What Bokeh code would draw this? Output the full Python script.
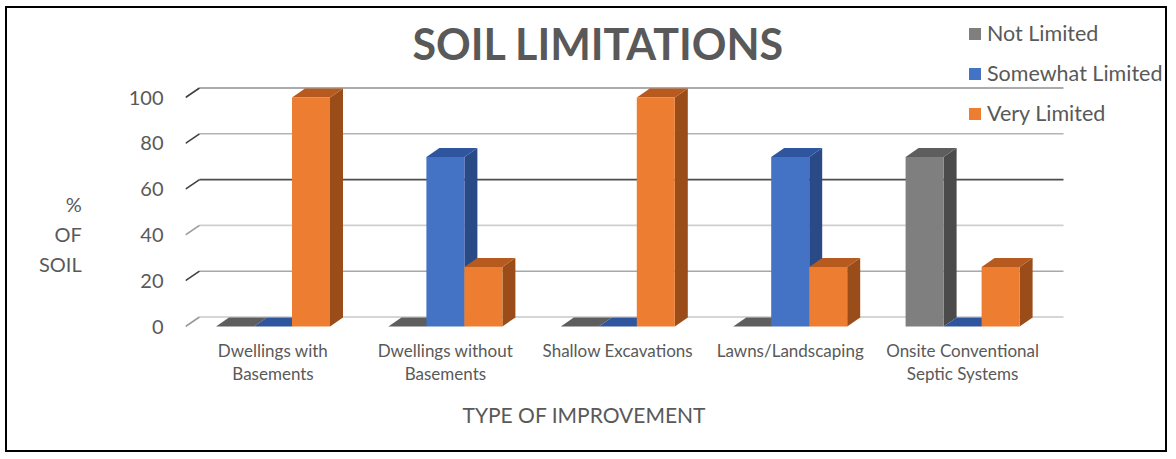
import numpy as np
from bokeh.plotting import figure
from bokeh.models import Range1d, FixedTicker, Label, Legend, LegendItem, Title
from bokeh.embed import file_html
from bokeh.resources import INLINE

# ---------------- data ----------------
categories = ["Dwellings with\nBasements", "Dwellings without\nBasements",
              "Shallow Excavations", "Lawns/Landscaping",
              "Onsite Conventional\nSeptic Systems"]
series_names = ["Not Limited", "Somewhat Limited", "Very Limited"]
not_limited = [0, 0, 0, 0, 74]
somewhat_limited = [0, 74, 0, 74, 0]
very_limited = [100, 26, 100, 26, 26]
y_ticks = [0, 20, 40, 60, 80, 100]
title_text = "SOIL LIMITATIONS"
x_title = "TYPE OF IMPROVEMENT"
y_title_lines = ["%", "OF", "SOIL"]

# ---------------- styles ----------------
front_colors = ["#7f7f7f", "#4472c4", "#ed7d31"]
top_colors = ["#5e5e5e", "#2f559f", "#b65a1f"]
side_colors = ["#4b4b4b", "#294a86", "#9a4d19"]
grid_colors = ["#c8c8c8", "#a8a8a8", "#cfcfcf", "#4d4d4d", "#b4b4b4", "#8f8f8f"]
tick_colors = ["#9a9a9a", "#404040", "#9a9a9a", "#404040", "#404040", "#404040"]
TEXT = "#595959"
FONT = "Lato"

# layout geometry (page pixels)
CX0, CY0 = 7, 8
W, H = 1162, 446
FL, FR, FT, FB = 185, 1168, 15, 332
CAT0_PX, CAT_PX = 272.5, 172.4
ZERO_PX, UNIT_PX = 326.0, 2.29


def xi(px):
    return (px - CAT0_PX) / CAT_PX


def yv(py):
    return (ZERO_PX - py) / UNIT_PX


bar_w = 38.0 / CAT_PX
bdx, bdy = 13.0 / CAT_PX, 9.0 / UNIT_PX
wdx, wdy = 14.0 / CAT_PX, 9.5 / UNIT_PX
wall_right = xi(1063)

p = figure(width=W, height=H, x_range=Range1d(xi(FL), xi(FR)),
           y_range=Range1d(yv(FB), yv(FT)), output_backend="svg",
           toolbar_location=None, min_border_left=FL - CX0,
           min_border_right=CX0 + W - FR, min_border_top=FT - CY0,
           min_border_bottom=CY0 + H - FB,
           styles={"border": "2px solid #000", "margin": "6px 0 0 5px"})
p.outline_line_color = None
p.xgrid.visible = False
p.ygrid.visible = False
p.background_fill_color = "white"
p.border_fill_color = "white"

# back wall gridlines + slanted ticks
yt = np.array(y_ticks, dtype=float)
x_front = xi(FL)
p.segment(x0=[x_front + wdx] * len(yt), y0=yt + wdy, x1=[wall_right] * len(yt),
          y1=yt + wdy, line_color=grid_colors, line_width=1.6)
p.segment(x0=[x_front] * len(yt), y0=yt, x1=[x_front + wdx] * len(yt),
          y1=yt + wdy, line_color=tick_colors, line_width=1.6)

# 3D bars
series = [not_limited, somewhat_limited, very_limited]
legend_items = []
idx = np.arange(len(categories), dtype=float)
for k, vals in enumerate(series):
    v = np.array(vals, dtype=float)
    left = idx + (k - 1.5) * bar_w
    right = left + bar_w
    side_xs = [[r, r + bdx, r + bdx, r] for r in right]
    side_ys = [[0, bdy, val + bdy, val] for val in v]
    p.patches(side_xs, side_ys, fill_color=side_colors[k], line_color=None)
    top_xs = [[l, r, r + bdx, l + bdx] for l, r in zip(left, right)]
    top_ys = [[val, val, val + bdy, val + bdy] for val in v]
    p.patches(top_xs, top_ys, fill_color=top_colors[k], line_color=None)
    fr = p.quad(left=left, right=right, bottom=0, top=v,
                fill_color=front_colors[k], line_color=None)
    legend_items.append(LegendItem(label=series_names[k], renderers=[fr]))

legend = Legend(items=legend_items, location=(782, 206),
                label_text_font=FONT, label_text_font_size="21.5px",
                label_text_color=TEXT, glyph_width=15, glyph_height=15,
                label_height=20, spacing=14, padding=0, margin=0,
                label_standoff=5, border_line_color=None,
                background_fill_alpha=0)
p.add_layout(legend)

# axes
p.yaxis.ticker = FixedTicker(ticks=y_ticks)
p.yaxis.axis_line_color = None
p.yaxis.major_tick_line_color = None
p.yaxis.minor_tick_line_color = None
p.yaxis.major_tick_out = 0
p.yaxis.major_tick_in = 0
p.yaxis.major_label_standoff = 22
p.yaxis.major_label_text_font = FONT
p.yaxis.major_label_text_font_size = "20px"
p.yaxis.major_label_text_color = TEXT
p.yaxis.axis_label = "\n".join([""] * 4 + y_title_lines)
p.yaxis.axis_label_orientation = "horizontal"
p.yaxis.axis_label_standoff = 44
p.yaxis.axis_label_text_font = FONT
p.yaxis.axis_label_text_font_size = "20px"
p.yaxis.axis_label_text_font_style = "normal"
p.yaxis.axis_label_text_color = TEXT
p.yaxis.axis_label_text_align = "center"
p.yaxis.axis_label_text_line_height = 1.25

p.xaxis.ticker = FixedTicker(ticks=list(range(len(categories))))
p.xaxis.major_label_overrides = {i: c for i, c in enumerate(categories)}
p.xaxis.axis_line_color = None
p.xaxis.major_tick_line_color = None
p.xaxis.minor_tick_line_color = None
p.xaxis.major_tick_out = 0
p.xaxis.major_tick_in = 0
p.xaxis.major_label_standoff = 7
p.xaxis.major_label_text_font = FONT
p.xaxis.major_label_text_font_size = "17px"
p.xaxis.major_label_text_color = TEXT
p.xaxis.major_label_text_line_height = 1.1

# titles
p.add_layout(Label(x=xi(598), y=yv(43), text=title_text, text_align="center",
                   text_baseline="middle", text_font=FONT,
                   text_font_size="43px", text_font_style="bold",
                   text_color=TEXT))
p.add_layout(Title(text=x_title, align="left", offset=462 - FL,
                   standoff=27, text_font=FONT, text_font_size="21px",
                   text_font_style="normal", text_color=TEXT), "below")

open("out.html", "w").write(file_html(p, INLINE))
